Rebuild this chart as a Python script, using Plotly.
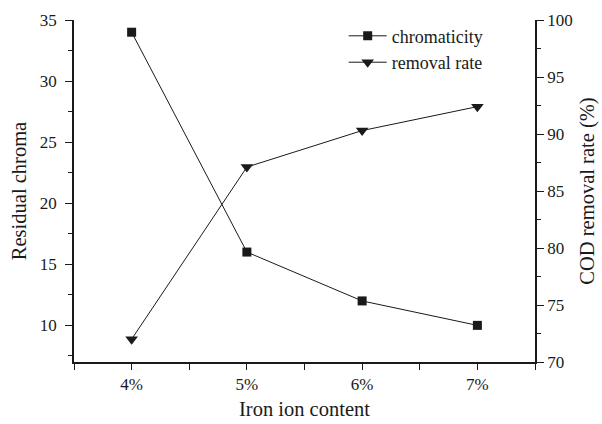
import plotly.graph_objects as go

categories = ["4%", "5%", "6%", "7%"]
chromaticity = [34, 16, 12, 10]
removal_rate = [72.0, 87.1, 90.3, 92.4]

xpos = list(range(len(categories)))
FONT = "Liberation Serif, Times New Roman, serif"
C = "#1a1a1a"

fig = go.Figure()
fig.add_trace(go.Scatter(
    x=xpos, y=chromaticity, name="chromaticity", mode="lines+markers",
    line=dict(color=C, width=1), marker=dict(symbol="square", size=9, color=C),
    yaxis="y"))
fig.add_trace(go.Scatter(
    x=xpos, y=removal_rate, name="removal rate", mode="lines+markers",
    line=dict(color=C, width=1), marker=dict(symbol="triangle-down", size=11, color=C),
    yaxis="y2"))

tickvals = [i * 0.5 for i in range(-1, 8)]
ticktext = []
for v in tickvals:
    if v >= 0 and abs(v - round(v)) < 1e-9 and int(round(v)) < len(categories):
        ticktext.append(categories[int(round(v))])
    else:
        ticktext.append("")

fig.update_layout(
    width=602, height=424,
    margin=dict(l=74, r=67, t=20, b=62),
    paper_bgcolor="white", plot_bgcolor="white",
    font=dict(family=FONT, size=17, color=C),
    showlegend=True,
    legend=dict(x=0.585, y=1.007, xanchor="left", yanchor="top",
                bgcolor="rgba(0,0,0,0)", font=dict(size=18),
                tracegroupgap=0, itemsizing="trace", itemwidth=38),
    xaxis=dict(range=[-0.5, 3.5], tickmode="array", tickvals=tickvals, ticktext=ticktext,
               showline=True, linecolor=C, linewidth=1.5, ticks="outside", ticklen=6,
               tickcolor=C, showgrid=False, zeroline=False, automargin=False,
               title=dict(text="Iron ion content", font=dict(size=20.5), standoff=8)),
    yaxis=dict(range=[7, 35], tickmode="array", tickvals=[10, 15, 20, 25, 30, 35],
               showline=True, linecolor=C, linewidth=1.5, ticks="outside", ticklen=7,
               tickcolor=C, showgrid=False, zeroline=False, automargin=False,
               ticklabelstandoff=5,
               minor=dict(tickvals=[7.5, 12.5, 17.5, 22.5, 27.5, 32.5], ticks="outside",
                          ticklen=4, tickcolor=C),
               title=dict(text="Residual chroma", font=dict(size=20.5), standoff=8)),
    yaxis2=dict(range=[70, 100], overlaying="y", side="right", tickmode="array",
                tickvals=[70, 75, 80, 85, 90, 95, 100],
                showline=True, linecolor=C, linewidth=1.5, ticks="outside", ticklen=7,
                tickcolor=C, showgrid=False, zeroline=False, automargin=False,
                minor=dict(tickvals=[72.5, 77.5, 82.5, 87.5, 92.5, 97.5], ticks="outside",
                           ticklen=4, tickcolor=C),
                title=dict(text="COD removal rate (%)", font=dict(size=20.5), standoff=8)),
)

fig.write_html("out.html", config={"displayModeBar": False},
               post_script="document.body.style.margin='0';")
